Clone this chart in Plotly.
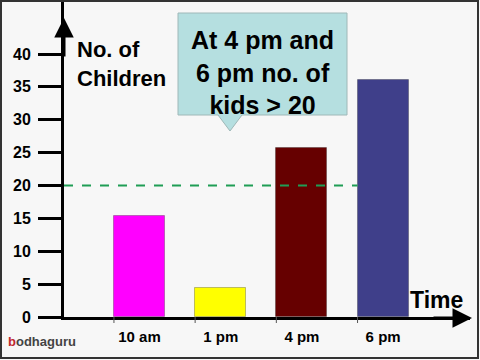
import plotly.graph_objects as go

# ---- data ----
times = ["10 am", "1 pm", "4 pm", "6 pm"]
children = [15.4, 4.4, 25.7, 36.0]
bar_colors = ["#ff00ff", "#ffff00", "#660000", "#3f3f8a"]
y_ticks = [0, 5, 10, 15, 20, 25, 30, 35, 40]
threshold = 20
callout_lines = ["At 4 pm and", "6 pm no. of", "kids > 20"]

# ---- layout geometry (pixels) ----
W, H = 480, 360
L, R, T, B = 64, 470, 0, 317
BAR_W = 0.63
X_RANGE = [-0.93, 4.07]


def px(x):
    return (x - L) / (R - L)


def py(y):
    return (B - y) / (B - T)


xs = list(range(len(times)))
fig = go.Figure()
fig.add_trace(go.Bar(
    x=xs, y=children, width=BAR_W,
    marker=dict(color=bar_colors, line=dict(color="rgba(0,0,0,0.25)", width=1)),
    hoverinfo="skip",
))

shapes = []
# threshold dashed line, from y axis to the left edge of the last bar
shapes.append(dict(type="line", xref="x", yref="y", x0=X_RANGE[0], x1=xs[-1] - BAR_W / 2,
                   y0=threshold, y1=threshold, layer="above",
                   line=dict(color="#1f9d55", width=2, dash="dash")))
# x tick marks at the left edge of each bar
for i in xs:
    shapes.append(dict(type="line", xref="x", yref="paper", x0=i - BAR_W / 2, x1=i - BAR_W / 2,
                       y0=0, y1=py(B + 6), line=dict(color="#555", width=1)))
# callout box with pointer
bx0, bx1, by0, by1 = 178, 347, 13, 115
tip_x, tip_y = 230, 131
path = (f"M {px(bx0)},{py(by0)} L {px(bx1)},{py(by0)} L {px(bx1)},{py(by1)} "
        f"L {px(242)},{py(by1)} L {px(tip_x)},{py(tip_y)} L {px(218)},{py(by1)} "
        f"L {px(bx0)},{py(by1)} Z")
shapes.append(dict(type="path", xref="paper", yref="paper", path=path,
                   fillcolor="#b5dfe0", line=dict(color="#9fb8b8", width=1), layer="above"))
# frame
shapes.append(dict(type="rect", xref="paper", yref="paper", x0=px(1), x1=px(478),
                   y0=py(358), y1=py(1), line=dict(color="#333", width=2)))

annotations = []
annotations.append(dict(xref="paper", yref="paper", x=px((bx0 + bx1) / 2), y=py((by0 + by1) / 2 + 8),
                        text="<b>" + "<br>".join(callout_lines) + "</b>", showarrow=False,
                        align="center",
                        font=dict(family="Liberation Sans", size=25, color="#000"),
                        xanchor="center", yanchor="middle"))
annotations.append(dict(xref="paper", yref="paper", x=px(75), y=py(35),
                        text="<b>No. of<br>Children</b>", showarrow=False, align="left",
                        xanchor="left", yanchor="top",
                        font=dict(family="Liberation Sans", size=22, color="#000")))
annotations.append(dict(xref="paper", yref="paper", x=px(436), y=py(300),
                        text="<b>Time</b>", showarrow=False, xanchor="center", yanchor="middle",
                        font=dict(family="Liberation Sans", size=23, color="#000")))
# axis arrows
annotations.append(dict(xref="paper", yref="paper", x=px(472), y=py(318), ax=-40, ay=0,
                        text="", showarrow=True, arrowhead=2, arrowsize=1.3, arrowwidth=3,
                        arrowcolor="#000"))
annotations.append(dict(xref="paper", yref="paper", x=px(L), y=py(18), ax=0, ay=40,
                        text="", showarrow=True, arrowhead=2, arrowsize=1.3, arrowwidth=3,
                        arrowcolor="#000"))
# logo text
annotations.append(dict(xref="paper", yref="paper", x=px(6), y=py(341),
                        text="<b><span style='color:#c0282d'>b</span><span style='color:#444'>odhaguru</span></b>",
                        showarrow=False, xanchor="left", yanchor="middle",
                        font=dict(family="Liberation Sans", size=13)))

bold_t = [f"<b>{t}</b>" for t in times]
fig.update_layout(
    width=W, height=H,
    margin=dict(l=L, r=W - R, t=T, b=H - B),
    paper_bgcolor="#f7f7f7", plot_bgcolor="#f7f7f7",
    showlegend=False, bargap=0,
    shapes=shapes, annotations=annotations,
    xaxis=dict(range=X_RANGE, tickmode="array", tickvals=xs, ticktext=bold_t,
               showgrid=False, zeroline=False, showline=True, linecolor="#000", linewidth=3,
               ticks="", ticklabelstandoff=4,
               tickfont=dict(family="Liberation Sans", size=15, color="#000"), fixedrange=True),
    yaxis=dict(range=[0, (B - T) / ((B - 54) / 40)], tickmode="array", tickvals=y_ticks,
               ticktext=[f"<b>{v}</b>" for v in y_ticks],
               showgrid=False, zeroline=False, showline=True, linecolor="#000", linewidth=3,
               ticks="outside", ticklen=23, tickwidth=2.5, tickcolor="#000",
               ticklabelstandoff=4,
               tickfont=dict(family="Liberation Sans", size=16, color="#000"), fixedrange=True),
)
fig.write_html("out.html", config={"displayModeBar": False},
               post_script="document.body.style.margin='0';document.body.style.background='#f7f7f7';")
